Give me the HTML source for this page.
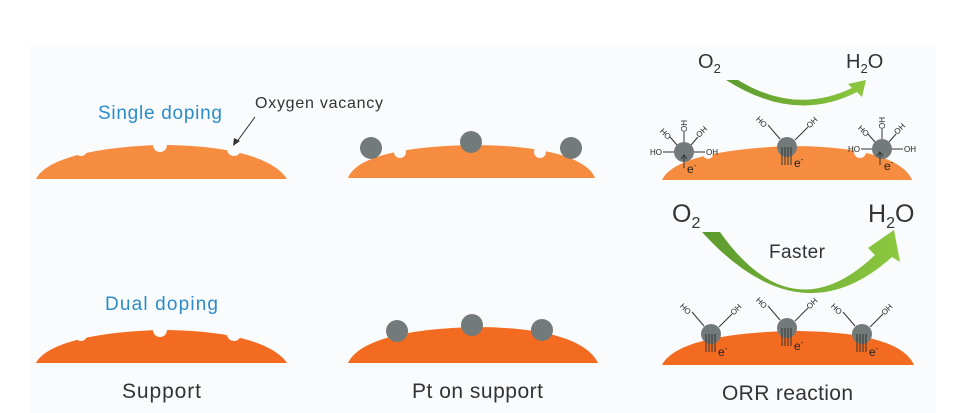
<!DOCTYPE html>
<html><head><meta charset="utf-8"><style>
html,body{margin:0;padding:0;background:#fff;}
svg{display:block;font-family:"Liberation Sans",sans-serif;}
</style></head><body>
<svg width="956" height="413" viewBox="0 0 956 413" xmlns="http://www.w3.org/2000/svg">
<defs>
<linearGradient id="g" x1="0" y1="0" x2="1" y2="0">
<stop offset="0" stop-color="#5b9a2e"/><stop offset="1" stop-color="#8dc83f"/></linearGradient>
</defs>
<rect x="30" y="45" width="906" height="368" fill="#fafbfc"/>

<!-- top row mounds -->
<g fill="#f68c40">
<path d="M36,179 C45,160 90,147 160,145 C235,145 275,160 287,179Z"/>
<path d="M348,178 C355,160 390,147 470,145 C550,145 588,160 595,178Z"/>
<path d="M662,180 C670,162 710,149 790,146 C870,146 905,162 912,180Z"/>
</g>
<g fill="#fafbfc">
<circle cx="81" cy="150" r="6"/><circle cx="160" cy="145" r="7"/><circle cx="234" cy="149" r="7"/>
<circle cx="400" cy="152" r="6"/><circle cx="540" cy="152" r="6"/>
<circle cx="708" cy="154" r="5"/><circle cx="860" cy="152" r="6"/>
</g>
<!-- bottom row mounds -->
<g fill="#f36b21">
<path d="M36,363 C45,345 90,332 160,330 C235,330 275,345 287,363Z"/>
<path d="M348,363 C358,342 400,329 474,327 C550,327 588,342 598,363Z"/>
<path d="M662,365 C672,345 715,333 790,331 C870,331 905,345 914,365Z"/>
</g>
<g fill="#fafbfc">
<circle cx="81" cy="335" r="6"/><circle cx="160" cy="330" r="7"/><circle cx="234" cy="334" r="7"/>
</g>

<!-- particles -->
<g fill="#737b7a">
<circle cx="371" cy="148" r="11"/><circle cx="471" cy="142" r="11"/><circle cx="571" cy="148" r="11"/>
<circle cx="397" cy="331" r="11"/><circle cx="472" cy="325" r="11"/><circle cx="542" cy="330" r="11"/>
<circle cx="684" cy="152" r="10"/><circle cx="787" cy="147" r="10"/><circle cx="882" cy="149" r="10"/>
<circle cx="711" cy="334" r="10"/><circle cx="787" cy="328" r="10"/><circle cx="862" cy="334" r="10"/>
</g>

<!-- text -->
<g fill="#2a8cc8" font-size="19">
<text x="98" y="119" textLength="124">Single doping</text>
<text x="105" y="310" textLength="113">Dual doping</text>
</g>
<text x="255" y="108" font-size="16" fill="#333" textLength="128">Oxygen vacancy</text>
<line x1="255" y1="117" x2="236" y2="143" stroke="#333" stroke-width="1"/>
<path d="M233,146 L234,138 L240,141Z" fill="#333"/>
<g fill="#333" font-size="21">
<text x="122" y="398" textLength="79">Support</text>
<text x="412" y="398" textLength="131">Pt on support</text>
<text x="722" y="400" textLength="131">ORR reaction</text>
</g>
<g fill="#333">
<text x="698" y="68" font-size="20">O<tspan font-size="13" dy="5">2</tspan></text>
<text x="846" y="68" font-size="20">H<tspan font-size="13" dy="5">2</tspan><tspan dy="-5">O</tspan></text>
<text x="672" y="222" font-size="25">O<tspan font-size="16" dy="6">2</tspan></text>
<text x="868" y="222" font-size="25">H<tspan font-size="16" dy="6">2</tspan><tspan dy="-6">O</tspan></text>
<text x="769" y="258" font-size="19" textLength="56">Faster</text>
</g>

<!-- green arrows -->
<path d="M726,80 L738,80 Q795,115 852,88 L848,84 L866,80 L862,97 L857,92 Q795,124 726,80Z" fill="url(#g)"/>
<path d="M702,232 L720,232 Q792,334 875,255 L868,248 L894,230 L900,262 L892,257 Q800,340 702,232Z" fill="url(#g)"/>

<!-- ligands -->
<g stroke="#333" stroke-width="1" fill="none">
<line x1="674" y1="152" x2="663" y2="152"/><line x1="694" y1="152" x2="705" y2="152"/>
<line x1="684" y1="142" x2="684" y2="132"/><line x1="677" y1="145" x2="670" y2="137"/><line x1="691" y1="145" x2="698" y2="137"/>
<line x1="780" y1="139" x2="768" y2="125"/><line x1="795" y1="140" x2="808" y2="127"/>
<line x1="872" y1="149" x2="861" y2="149"/><line x1="892" y1="149" x2="903" y2="149"/>
<line x1="882" y1="139" x2="882" y2="129"/><line x1="875" y1="142" x2="868" y2="134"/><line x1="889" y1="142" x2="896" y2="134"/>
<line x1="704" y1="326" x2="692" y2="312"/><line x1="719" y1="327" x2="732" y2="314"/>
<line x1="780" y1="320" x2="768" y2="306"/><line x1="795" y1="321" x2="808" y2="308"/>
<line x1="855" y1="326" x2="843" y2="312"/><line x1="870" y1="327" x2="883" y2="314"/>
<path d="M684,168 L684,156 M681,159 L684,155 L687,159"/>
<path d="M880,165 L880,153 M877,156 L880,152 L883,156"/>
<path d="M782,165 L782,147 M785,165 L785,147 M788,165 L788,147 M791,165 L791,147"/>
<path d="M706,352 L706,334 M709,352 L709,334 M712,352 L712,334 M715,352 L715,334"/>
<path d="M782,346 L782,328 M785,346 L785,328 M788,346 L788,328 M791,346 L791,328"/>
<path d="M857,352 L857,334 M860,352 L860,334 M863,352 L863,334 M866,352 L866,334"/>
</g>
<g fill="#222" font-size="8">
<text x="650" y="155">HO</text><text x="706" y="155">OH</text>
<text x="680" y="131" transform="rotate(-90 684 128)">OH</text>
<text x="660" y="136" transform="rotate(45 665 133)">HO</text>
<text x="696" y="136" transform="rotate(-45 700 133)">OH</text>
<text x="756" y="124" transform="rotate(45 761 121)">HO</text>
<text x="806" y="126" transform="rotate(-45 811 123)">OH</text>
<text x="848" y="152">HO</text><text x="904" y="152">OH</text>
<text x="878" y="128" transform="rotate(-90 882 125)">OH</text>
<text x="858" y="133" transform="rotate(45 863 130)">HO</text>
<text x="894" y="133" transform="rotate(-45 898 130)">OH</text>
<text x="680" y="311" transform="rotate(45 685 308)">HO</text>
<text x="730" y="313" transform="rotate(-45 735 310)">OH</text>
<text x="756" y="305" transform="rotate(45 761 302)">HO</text>
<text x="806" y="307" transform="rotate(-45 811 304)">OH</text>
<text x="831" y="311" transform="rotate(45 836 308)">HO</text>
<text x="881" y="313" transform="rotate(-45 886 310)">OH</text>
</g>
<g fill="#222" font-size="12">
<text x="687" y="173">e<tspan font-size="8" dy="-5">-</tspan></text>
<text x="884" y="170">e<tspan font-size="8" dy="-5">-</tspan></text>
<text x="794" y="167">e<tspan font-size="8" dy="-5">-</tspan></text>
<text x="718" y="356">e<tspan font-size="8" dy="-5">-</tspan></text>
<text x="794" y="350">e<tspan font-size="8" dy="-5">-</tspan></text>
<text x="869" y="356">e<tspan font-size="8" dy="-5">-</tspan></text>
</g>
</svg>
</body></html>
